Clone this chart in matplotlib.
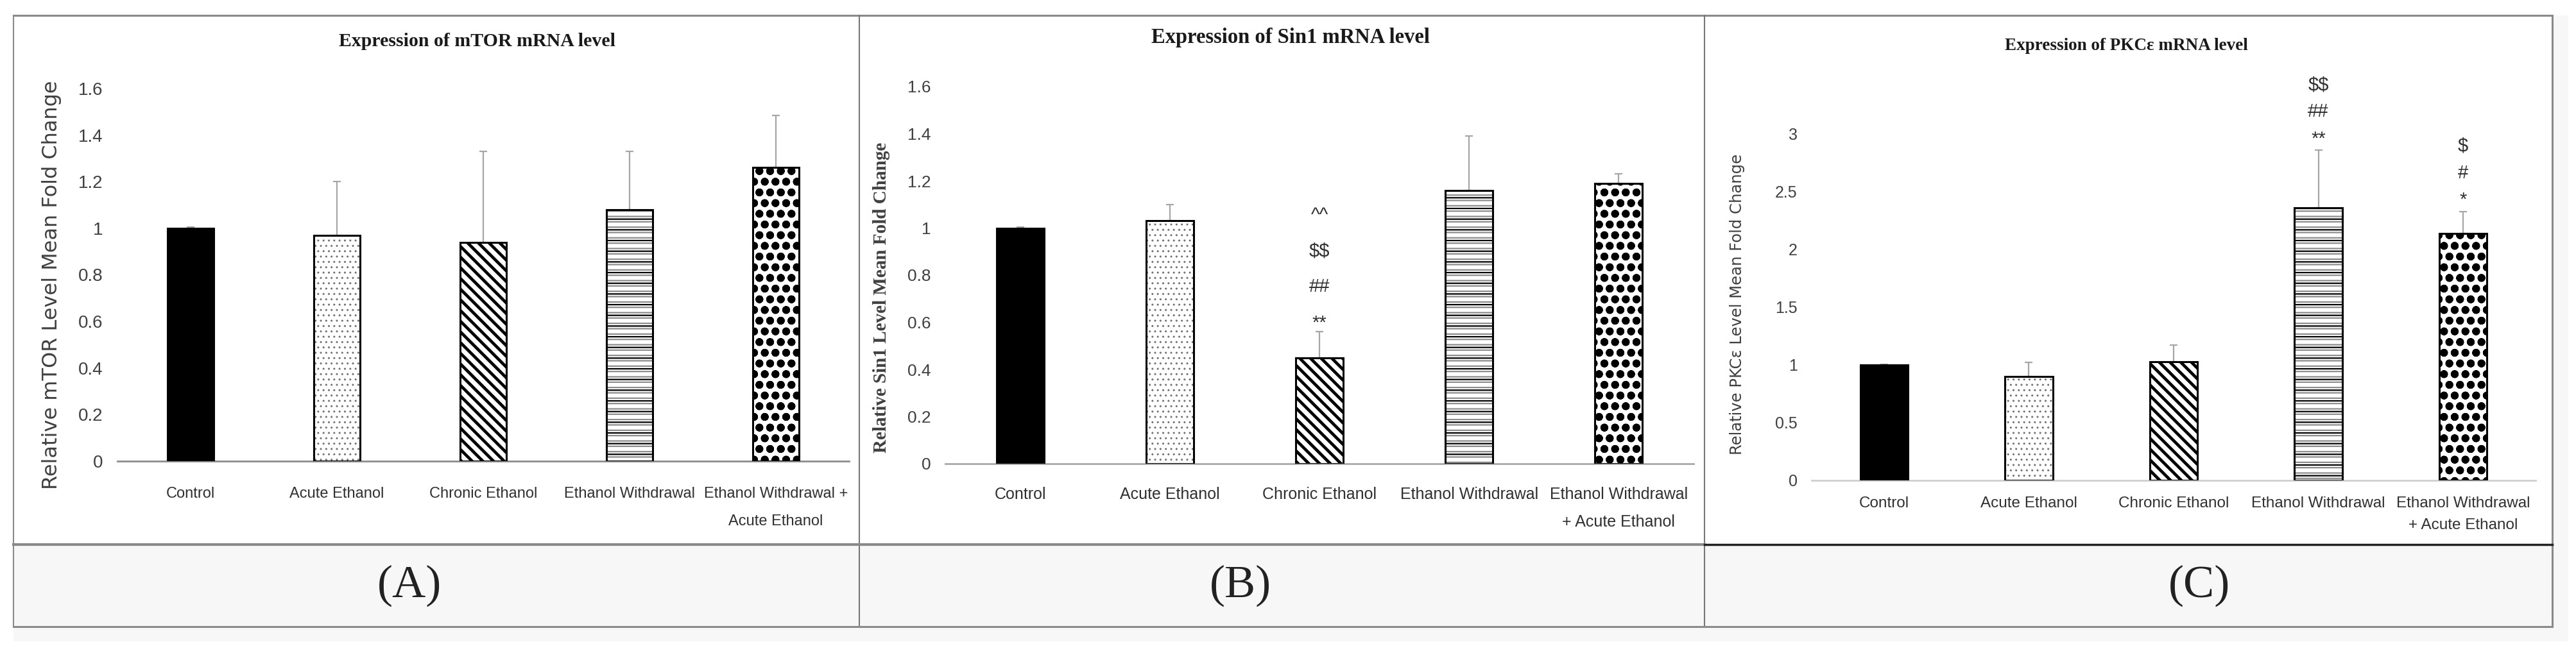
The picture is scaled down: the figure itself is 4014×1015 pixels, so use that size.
import numpy as np
import matplotlib
matplotlib.use("Agg")
import matplotlib.pyplot as plt
from matplotlib.patches import Rectangle
from matplotlib.lines import Line2D

# ---- data ----
groups = ['Control', 'Acute Ethanol', 'Chronic Ethanol', 'Ethanol Withdrawal',
          'Ethanol Withdrawal +\nAcute Ethanol']
groups_bc = ['Control', 'Acute Ethanol', 'Chronic Ethanol', 'Ethanol Withdrawal',
             'Ethanol Withdrawal\n+ Acute Ethanol']

mtor_mean = [1.0, 0.97, 0.94, 1.08, 1.26]
mtor_err = [0.005, 0.23, 0.39, 0.25, 0.225]

sin1_mean = [1.0, 1.03, 0.45, 1.16, 1.19]
sin1_err = [0.005, 0.07, 0.11, 0.23, 0.04]
sin1_marks = ['', '', '^^\n$$\n##\n**', '', '']

pkce_mean = [1.0, 0.90, 1.03, 2.36, 2.14]
pkce_err = [0.005, 0.12, 0.14, 0.50, 0.19]
pkce_marks = ['', '', '', '$$\n##\n**', '$\n#\n*']

W, H = 4014, 1015
SANS = ['Liberation Sans', 'DejaVu Sans']
SERIF = ['Liberation Serif', 'DejaVu Serif']

fig = plt.figure(figsize=(W / 100, H / 100), dpi=100)
fig.patch.set_facecolor('white')


def fx(x):
    return x / W


def fy(y):
    return 1 - y / H


def box(x0, y0, x1, y1, color, z=-10):
    fig.add_artist(Rectangle((fx(x0), fy(y1)), fx(x1) - fx(x0), fy(y0) - fy(y1),
                             transform=fig.transFigure, facecolor=color,
                             edgecolor='none', zorder=z))


def line(x0, y0, x1, y1, color, lw, z=-5):
    fig.add_artist(Line2D([fx(x0), fx(x1)], [fy(y0), fy(y1)], transform=fig.transFigure,
                          color=color, linewidth=lw, zorder=z))


# frame / table layout
box(21, 24, 4002, 1000, '#f7f7f7')
box(21, 24, 3977, 849, 'white', z=-9)
line(21, 24, 3977, 24, '#8a8a8a', 2.2)
line(21, 24, 21, 977, '#8a8a8a', 1.5)
line(1339, 24, 1339, 977, '#777777', 1.5)
line(2656, 24, 2656, 977, '#777777', 1.5)
line(3977, 24, 3977, 977, '#8a8a8a', 2.2)
line(21, 849, 2656, 849, '#8a8a8a', 3.0)
line(2656, 849, 3977, 849, '#222222', 2.5)
line(21, 977, 3977, 977, '#8a8a8a', 2.2)

styles = [
    dict(face='black', hatch=None, hc=None, hlw=None),
    dict(face='white', hatch='..', hc='#707070', hlw=1.0),
    dict(face='white', hatch='\\\\', hc='black', hlw=3.4),
    dict(face='white', hatch='--', hc='#8c8c8c', hlw=1.6),
    dict(face='white', hatch='o', hc='black', hlw=4.0),
]


def set_hlw(bars, lw):
    for p in bars:
        if hasattr(p, 'set_hatch_linewidth'):
            p.set_hatch_linewidth(lw)


def draw_bar(ax, xi, h, w, st):
    if st['hatch'] is None:
        ax.bar(xi, h, width=w, color=st['face'], edgecolor='black', linewidth=2.2, zorder=3)
        return
    matplotlib.rcParams['hatch.linewidth'] = st['hlw']
    b = ax.bar(xi, h, width=w, color=st['face'], edgecolor=st['hc'], hatch=st['hatch'],
               linewidth=0, zorder=2)
    set_hlw(b, st['hlw'])
    if st['hatch'] == '--':
        # alternate black lines over the grey ones
        b2 = ax.bar(xi, h, width=w, fill=False, edgecolor='black', hatch='-',
                    linewidth=0, zorder=2.5)
        set_hlw(b2, 1.6)
    ax.bar(xi, h, width=w, fill=False, edgecolor='black', linewidth=2.2, zorder=3)


def panel(rect, labels, mean, err, ylim, ystep, title, tpos, tsize,
          ylabel, yl_font, yl_size, yl_pos, axis_col, wbar, tick_size, ytick_size,
          xpad, xls, marks=None, mark_size=21, mark_ls=2.0, mark_off=0.0):
    l, t, r, b = rect
    ax = fig.add_axes([fx(l), fy(b), fx(r) - fx(l), fy(t) - fy(b)])
    ax.patch.set_visible(False)
    x = np.arange(len(mean))
    ax.errorbar(x, mean, yerr=[np.zeros(len(err)), err], fmt='none', ecolor='#a6a6a6',
                elinewidth=1.6, capsize=4.5, capthick=1.6, zorder=1)
    for i in range(len(mean)):
        draw_bar(ax, x[i], mean[i], wbar, styles[i])
    ax.set_xlim(-0.5, len(mean) - 0.5)
    ax.set_ylim(*ylim)
    ticks = np.arange(0, ylim[1] + 1e-9, ystep)
    ax.set_yticks(ticks, [f'{v:g}' for v in ticks])
    ax.set_xticks(x, labels)
    for s in ['top', 'left', 'right']:
        ax.spines[s].set_visible(False)
    ax.spines['bottom'].set_color(axis_col)
    ax.spines['bottom'].set_linewidth(2.0)
    ax.tick_params(axis='y', length=0, pad=16, labelsize=ytick_size, labelcolor='#404040')
    ax.tick_params(axis='x', length=0, pad=xpad, labelsize=tick_size, labelcolor='#303030')
    for tl in ax.get_xticklabels() + ax.get_yticklabels():
        tl.set_family(SANS)
    for tl in ax.get_xticklabels():
        tl.set_linespacing(xls)
    ax.set_ylabel(ylabel, family=yl_font[0], fontweight=yl_font[1], fontsize=yl_size,
                  color='#404040')
    ax.yaxis.set_label_coords(*yl_pos)
    fig.text(fx(tpos[0]), fy(tpos[1]), title, ha='center', va='center', family=SERIF,
             fontweight='bold', fontsize=tsize, color='#1a1a1a')
    if marks:
        for i, m in enumerate(marks):
            if m:
                ax.text(x[i], mean[i] + err[i] + mark_off, m, ha='center', va='bottom',
                        family=SANS, fontsize=mark_size, color='#303030',
                        linespacing=mark_ls, parse_math=False, clip_on=False, zorder=4)
    return ax


panel((183, 138, 1323, 719), groups, mtor_mean, mtor_err, (0, 1.6), 0.2,
      'Expression of mTOR mRNA level', (743, 64), 21.5,
      'Relative mTOR Level Mean Fold Change', (['DejaVu Sans'], 'normal'), 23,
      (-0.076, 0.473), '#8c8c8c', 0.32, 17, 20, 29, 2.2)

panel((1473, 135, 2639, 723), groups_bc, sin1_mean, sin1_err, (0, 1.6), 0.2,
      'Expression of Sin1 mRNA level', (2011, 59), 23.5,
      'Relative Sin1 Level Mean Fold Change', (SERIF, 'bold'), 21,
      (-0.074, 0.44), '#a8a8a8', 0.318, 18, 19, 26, 2.0,
      marks=sin1_marks, mark_size=21, mark_ls=2.26, mark_off=0.0)

panel((2823, 209, 3951, 749), groups_bc, pkce_mean, pkce_err, (0, 3), 0.5,
      'Expression of PKCε mRNA level', (3313, 71), 19.5,
      'Relative PKCε Level Mean Fold Change', (['DejaVu Sans'], 'normal'), 17.5,
      (-0.092, 0.509), '#d0d0d0', 0.33, 17.5, 18, 18, 1.68,
      marks=pkce_marks, mark_size=21, mark_ls=1.65, mark_off=0.02)

for lab, xc in [('(A)', 638), ('(B)', 1933), ('(C)', 3427)]:
    fig.text(fx(xc), fy(913), lab, ha='center', va='center', family=SERIF,
             fontsize=52, color='#222222')

fig.savefig('out.png', dpi=100)
